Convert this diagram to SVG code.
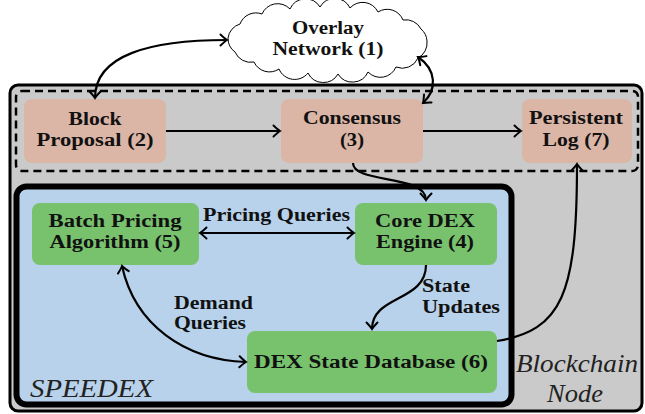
<svg xmlns="http://www.w3.org/2000/svg" width="645" height="414" viewBox="0 0 645 414">
<style>
.lbl{font-family:"Liberation Serif","Times New Roman",serif;font-weight:bold;font-size:18px;fill:#111;text-anchor:middle}
.side{font-family:"Liberation Serif","Times New Roman",serif;font-weight:bold;font-size:18px;fill:#111}
.ital{font-family:"Liberation Serif","Times New Roman",serif;font-style:italic;font-size:25px;fill:#222}
.salmon{fill:#dbb5a6}
.green{fill:#78c26e}
.conn{fill:none;stroke:#000;stroke-width:2.2}
</style>
<defs>
<marker id="ah" viewBox="-9 -7 11 14" refX="0" refY="0" markerWidth="11" markerHeight="14" markerUnits="userSpaceOnUse" orient="auto-start-reverse">
<path d="M-6.5,-5.5 Q-2,-1.2 0,0 Q-2,1.2 -6.5,5.5" fill="none" stroke="#000" stroke-width="2" stroke-linecap="round"/>
</marker>
</defs>
<g id="blockchain-node">
<rect x="10" y="85" width="632" height="326" rx="8" fill="#cacaca" stroke="#000" stroke-width="3"/>
<text class="ital" x="516" y="372" textLength="122" lengthAdjust="spacingAndGlyphs">Blockchain</text>
<text class="ital" x="547" y="402" textLength="56" lengthAdjust="spacingAndGlyphs">Node</text>
</g>
<g id="dashed-group">
<rect x="16" y="91" width="622" height="80" rx="6" fill="none" stroke="#000" stroke-width="2.5" stroke-dasharray="8 5"/>
</g>
<g id="speedex">
<rect x="16.5" y="186.5" width="495" height="218" rx="10" fill="#b8d2eb" stroke="#000" stroke-width="6"/>
<text class="ital" x="30" y="397" textLength="123" lengthAdjust="spacingAndGlyphs">SPEEDEX</text>
</g>
<g id="overlay-network">
<path d="M427,41 A17,17 0 0 1 418,58 A17,17 0 0 1 396,67 A17,17 0 0 1 368,72 A17,17 0 0 1 338,74 A17,17 0 0 1 308,73 A17,17 0 0 1 279,69 A17,17 0 0 1 254,62 A17,17 0 0 1 235,52 A17,17 0 0 1 228,38 A17,17 0 0 1 240,24 A17,17 0 0 1 262,14 A17,17 0 0 1 290,9 A17,17 0 0 1 320,7 A17,17 0 0 1 350,8 A17,17 0 0 1 378,12 A17,17 0 0 1 403,20 A17,17 0 0 1 421,29 A17,17 0 0 1 427,41 Z" fill="#fff" stroke="#000" stroke-width="1"/>
<text class="lbl" x="328" y="34" textLength="72" lengthAdjust="spacingAndGlyphs">Overlay</text>
<text class="lbl" x="328" y="55" textLength="111" lengthAdjust="spacingAndGlyphs">Network (1)</text>
</g>
<g id="block-proposal">
<rect class="salmon" x="24" y="99" width="142" height="64" rx="8"/>
<text class="lbl" x="95" y="125" textLength="53" lengthAdjust="spacingAndGlyphs">Block</text>
<text class="lbl" x="95" y="146" textLength="117" lengthAdjust="spacingAndGlyphs">Proposal (2)</text>
</g>
<g id="consensus">
<rect class="salmon" x="281" y="99" width="142" height="64" rx="8"/>
<text class="lbl" x="352" y="124" textLength="98" lengthAdjust="spacingAndGlyphs">Consensus</text>
<text class="lbl" x="352" y="146" textLength="24" lengthAdjust="spacingAndGlyphs">(3)</text>
</g>
<g id="persistent-log">
<rect class="salmon" x="522" y="99" width="110" height="64" rx="8"/>
<text class="lbl" x="576" y="124" textLength="94" lengthAdjust="spacingAndGlyphs">Persistent</text>
<text class="lbl" x="576" y="146" textLength="67" lengthAdjust="spacingAndGlyphs">Log (7)</text>
</g>
<g id="batch-pricing">
<rect class="green" x="32" y="203" width="167" height="62" rx="8"/>
<text class="lbl" x="115" y="227" textLength="133" lengthAdjust="spacingAndGlyphs">Batch Pricing</text>
<text class="lbl" x="115" y="248" textLength="131" lengthAdjust="spacingAndGlyphs">Algorithm (5)</text>
</g>
<g id="core-dex">
<rect class="green" x="355" y="203" width="142" height="62" rx="8"/>
<text class="lbl" x="425" y="227" textLength="100" lengthAdjust="spacingAndGlyphs">Core DEX</text>
<text class="lbl" x="425" y="248" textLength="98" lengthAdjust="spacingAndGlyphs">Engine (4)</text>
</g>
<g id="dex-state-db">
<rect class="green" x="247" y="331" width="250" height="62" rx="8"/>
<text class="lbl" x="371" y="368" textLength="234" lengthAdjust="spacingAndGlyphs">DEX State Database (6)</text>
</g>
<g id="connectors">
<path class="conn" d="M95,98 C95,55 150,40 227,40" marker-start="url(#ah)" marker-end="url(#ah)"/>
<path class="conn" d="M423,103 C437,90 437,70 418,57" marker-start="url(#ah)" marker-end="url(#ah)"/>
<path class="conn" d="M166,131 L280,131" marker-end="url(#ah)"/>
<path class="conn" d="M423,131 L521,131" marker-end="url(#ah)"/>
<path class="conn" d="M353,163 C353,184 426,174 426,200" marker-end="url(#ah)"/>
<path class="conn" d="M200,233 L354,233" marker-start="url(#ah)" marker-end="url(#ah)"/>
<path class="conn" d="M426,265 C426,302 372,295 372,329" marker-end="url(#ah)"/>
<path class="conn" d="M122,266 C135,325 185,360 246,362" marker-start="url(#ah)" marker-end="url(#ah)"/>
<path class="conn" d="M497,341 C562,330 577,295 577,164" marker-end="url(#ah)"/>
<text class="side" x="203" y="221" textLength="147" lengthAdjust="spacingAndGlyphs">Pricing Queries</text>
<text class="side" x="422" y="292" textLength="48" lengthAdjust="spacingAndGlyphs">State</text>
<text class="side" x="422" y="313" textLength="78" lengthAdjust="spacingAndGlyphs">Updates</text>
<text class="side" x="174" y="309" textLength="79" lengthAdjust="spacingAndGlyphs">Demand</text>
<text class="side" x="174" y="329" textLength="72" lengthAdjust="spacingAndGlyphs">Queries</text>
</g>
</svg>
